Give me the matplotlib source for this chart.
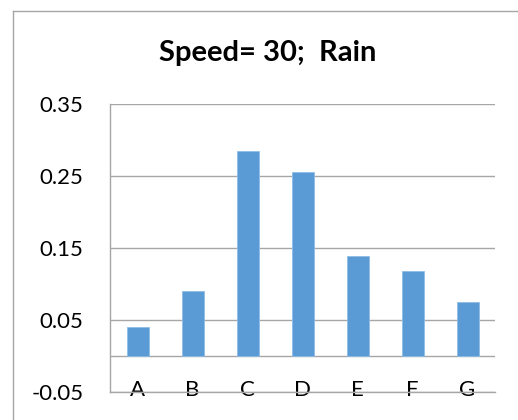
import matplotlib
matplotlib.use("Agg")
import matplotlib.pyplot as plt
from matplotlib.lines import Line2D

categories = ["A", "B", "C", "D", "E", "F", "G"]
values = [0.0395, 0.0895, 0.284, 0.255, 0.138, 0.1185, 0.0745]
yticks = [-0.05, 0.05, 0.15, 0.25, 0.35]
title = "Speed= 30;  Rain"

plt.rcParams['font.family'] = ['Lato', 'DejaVu Sans']

W, H = 518, 420
fig = plt.figure(figsize=(W / 100, H / 100), dpi=100)
ax = fig.add_axes([110 / W, 1 - 391.7 / H, (495 - 110) / W, (391.7 - 104) / H])

grid_c = "#a6a6a6"
x = list(range(len(categories)))
ax.bar(x, values, width=0.4, color="#5b9bd5", edgecolor="#8fbce6", linewidth=0.6, zorder=3)

ax.set_xlim(-0.5, len(categories) - 0.5)
ax.set_ylim(-0.05, 0.35)
ax.set_yticks(yticks)
ax.set_yticklabels([f"{t:.2f}" for t in yticks])
ax.yaxis.grid(True, color=grid_c, linewidth=1.0, zorder=0)
ax.axhline(0, color=grid_c, linewidth=1.0, zorder=1)

ax.set_xticks(x)
ax.set_xticklabels(categories)
ax.tick_params(axis='x', length=0, pad=-8.5, labelsize=16, labelcolor="#000000")
ax.tick_params(axis='y', length=0, pad=19, labelsize=16, labelcolor="#000000")
for lab in ax.get_xticklabels():
    lab.set_zorder(5)

for s in ["top", "right"]:
    ax.spines[s].set_visible(False)
ax.spines["left"].set_color(grid_c)
ax.spines["bottom"].set_color(grid_c)
ax.spines["left"].set_linewidth(1.0)
ax.spines["bottom"].set_linewidth(1.0)

fig.text(268 / W, 1 - 53 / H, title, ha="center", va="center",
         fontsize=21, fontweight="bold", color="#000000")

# outer chart border (left and top visible)
fig.add_artist(Line2D([12.5 / W, 12.5 / W], [0, 1 - 10.5 / H], transform=fig.transFigure,
                      color=grid_c, linewidth=1.0))
fig.add_artist(Line2D([12.5 / W, 1], [1 - 10.5 / H, 1 - 10.5 / H], transform=fig.transFigure,
                      color=grid_c, linewidth=1.0))

fig.savefig("out.png", dpi=100)
